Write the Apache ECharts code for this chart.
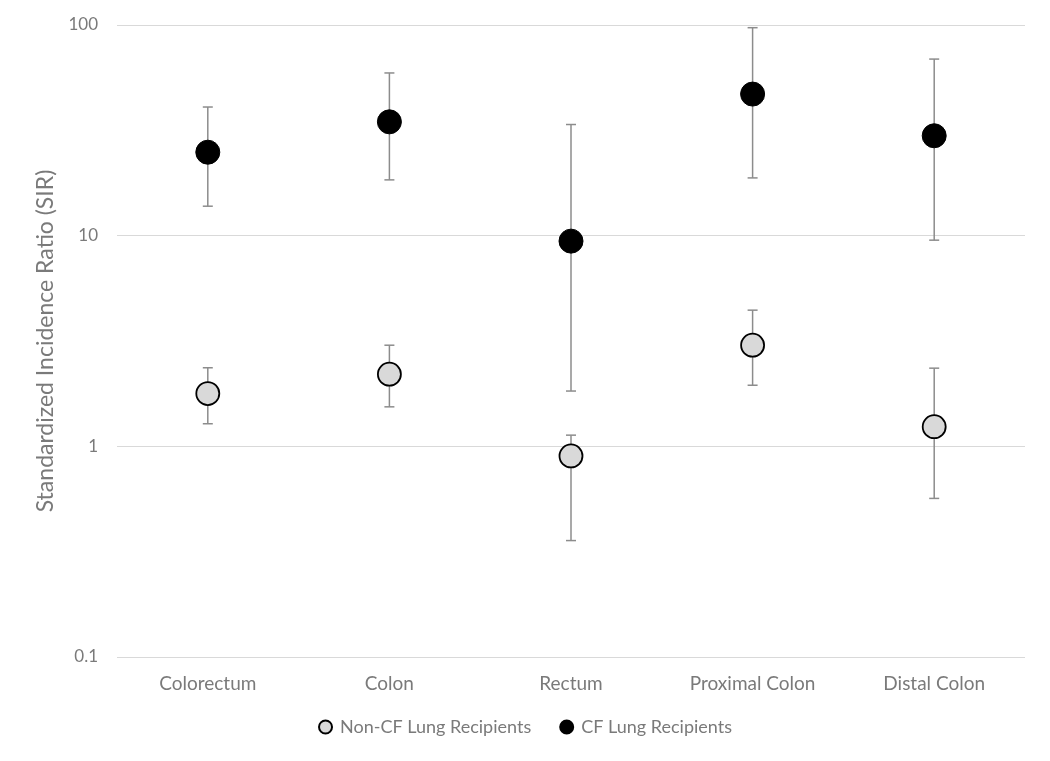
<!DOCTYPE html>
<html>
<head>
<meta charset="utf-8">
<script src="https://cdn.jsdelivr.net/npm/echarts@6/dist/echarts.min.js"></script>
<style>html,body{margin:0;padding:0;background:#fff}#c{width:1050px;height:761px}</style>
</head>
<body>
<div id="c"></div>
<script>
const categories = ['Colorectum', 'Colon', 'Rectum', 'Proximal Colon', 'Distal Colon'];
const nonCfSir   = [1.78, 2.20, 0.90, 3.02, 1.24];
const nonCfLow   = [1.28, 1.54, 0.357, 1.95, 0.566];
const nonCfHigh  = [2.36, 3.02, 1.13, 4.43, 2.35];
const cfSir      = [24.9, 34.7, 9.42, 47.0, 29.8];
const cfLow      = [13.8, 18.4, 1.83, 18.8, 9.52];
const cfHigh     = [40.8, 59.2, 33.7, 97.1, 68.9];
const yTicks     = [0.1, 1, 10, 100];

const font = 'Lato, "Open Sans", sans-serif';
const grey = '#7a7a7a';

function errData(low, high) {
  return categories.map((c, i) => [i, low[i], high[i]]);
}
function errRender(params, api) {
  const x = api.value(0);
  const lo = api.coord([x, api.value(1)]);
  const hi = api.coord([x, api.value(2)]);
  const cap = 5;
  const style = { stroke: '#8c8c8c', lineWidth: 1.5 };
  return {
    type: 'group',
    children: [
      { type: 'line', shape: { x1: lo[0], y1: lo[1], x2: hi[0], y2: hi[1] }, style },
      { type: 'line', shape: { x1: lo[0] - cap, y1: lo[1], x2: lo[0] + cap, y2: lo[1] }, style },
      { type: 'line', shape: { x1: hi[0] - cap, y1: hi[1], x2: hi[0] + cap, y2: hi[1] }, style }
    ]
  };
}

const chart = echarts.init(document.getElementById('c'), null, { renderer: 'canvas' });
chart.setOption({
  animation: false,
  backgroundColor: '#fff',
  grid: { left: 117, right: 25, top: 25, bottom: 104 },
  legend: {
    top: 713,
    left: 'center',
    itemGap: 28,
    itemWidth: 13,
    itemHeight: 13,
    textStyle: { fontFamily: font, fontSize: 18, color: grey, padding: [0, 0, 0, 3] },
    data: [
      { name: 'Non-CF Lung Recipients', icon: 'circle' },
      { name: 'CF Lung Recipients', icon: 'circle' }
    ]
  },
  xAxis: {
    type: 'category',
    data: categories,
    axisLine: { show: false },
    axisTick: { show: false },
    axisLabel: { fontFamily: font, fontSize: 19, color: grey, margin: 17 }
  },
  yAxis: {
    type: 'log',
    logBase: 10,
    min: 0.1,
    max: 100,
    name: 'Standardized Incidence Ratio (SIR)',
    nameLocation: 'middle',
    nameGap: 60,
    nameTextStyle: { fontFamily: font, fontSize: 23, color: grey },
    axisLine: { show: false },
    axisTick: { show: false },
    splitLine: { lineStyle: { color: '#d9d9d9', width: 1 } },
    axisLabel: {
      fontFamily: font, fontSize: 17, color: grey, margin: 19,
      formatter: v => {
        const t = yTicks.find(k => Math.abs(k - v) / k < 1e-6);
        return t === undefined ? '' : String(t);
      }
    }
  },
  series: [
    {
      name: 'Non-CF err', type: 'custom', renderItem: errRender,
      data: errData(nonCfLow, nonCfHigh), z: 2, silent: true
    },
    {
      name: 'CF err', type: 'custom', renderItem: errRender,
      data: errData(cfLow, cfHigh), z: 2, silent: true
    },
    {
      name: 'Non-CF Lung Recipients', type: 'scatter', data: nonCfSir,
      symbolSize: 23, z: 5,
      itemStyle: { color: '#d9d9d9', borderColor: '#000', borderWidth: 1.8, opacity: 1 }
    },
    {
      name: 'CF Lung Recipients', type: 'scatter', data: cfSir,
      symbolSize: 24, z: 5,
      itemStyle: { color: '#000', borderColor: '#000', borderWidth: 1, opacity: 1 }
    }
  ]
});
</script>
</body>
</html>
